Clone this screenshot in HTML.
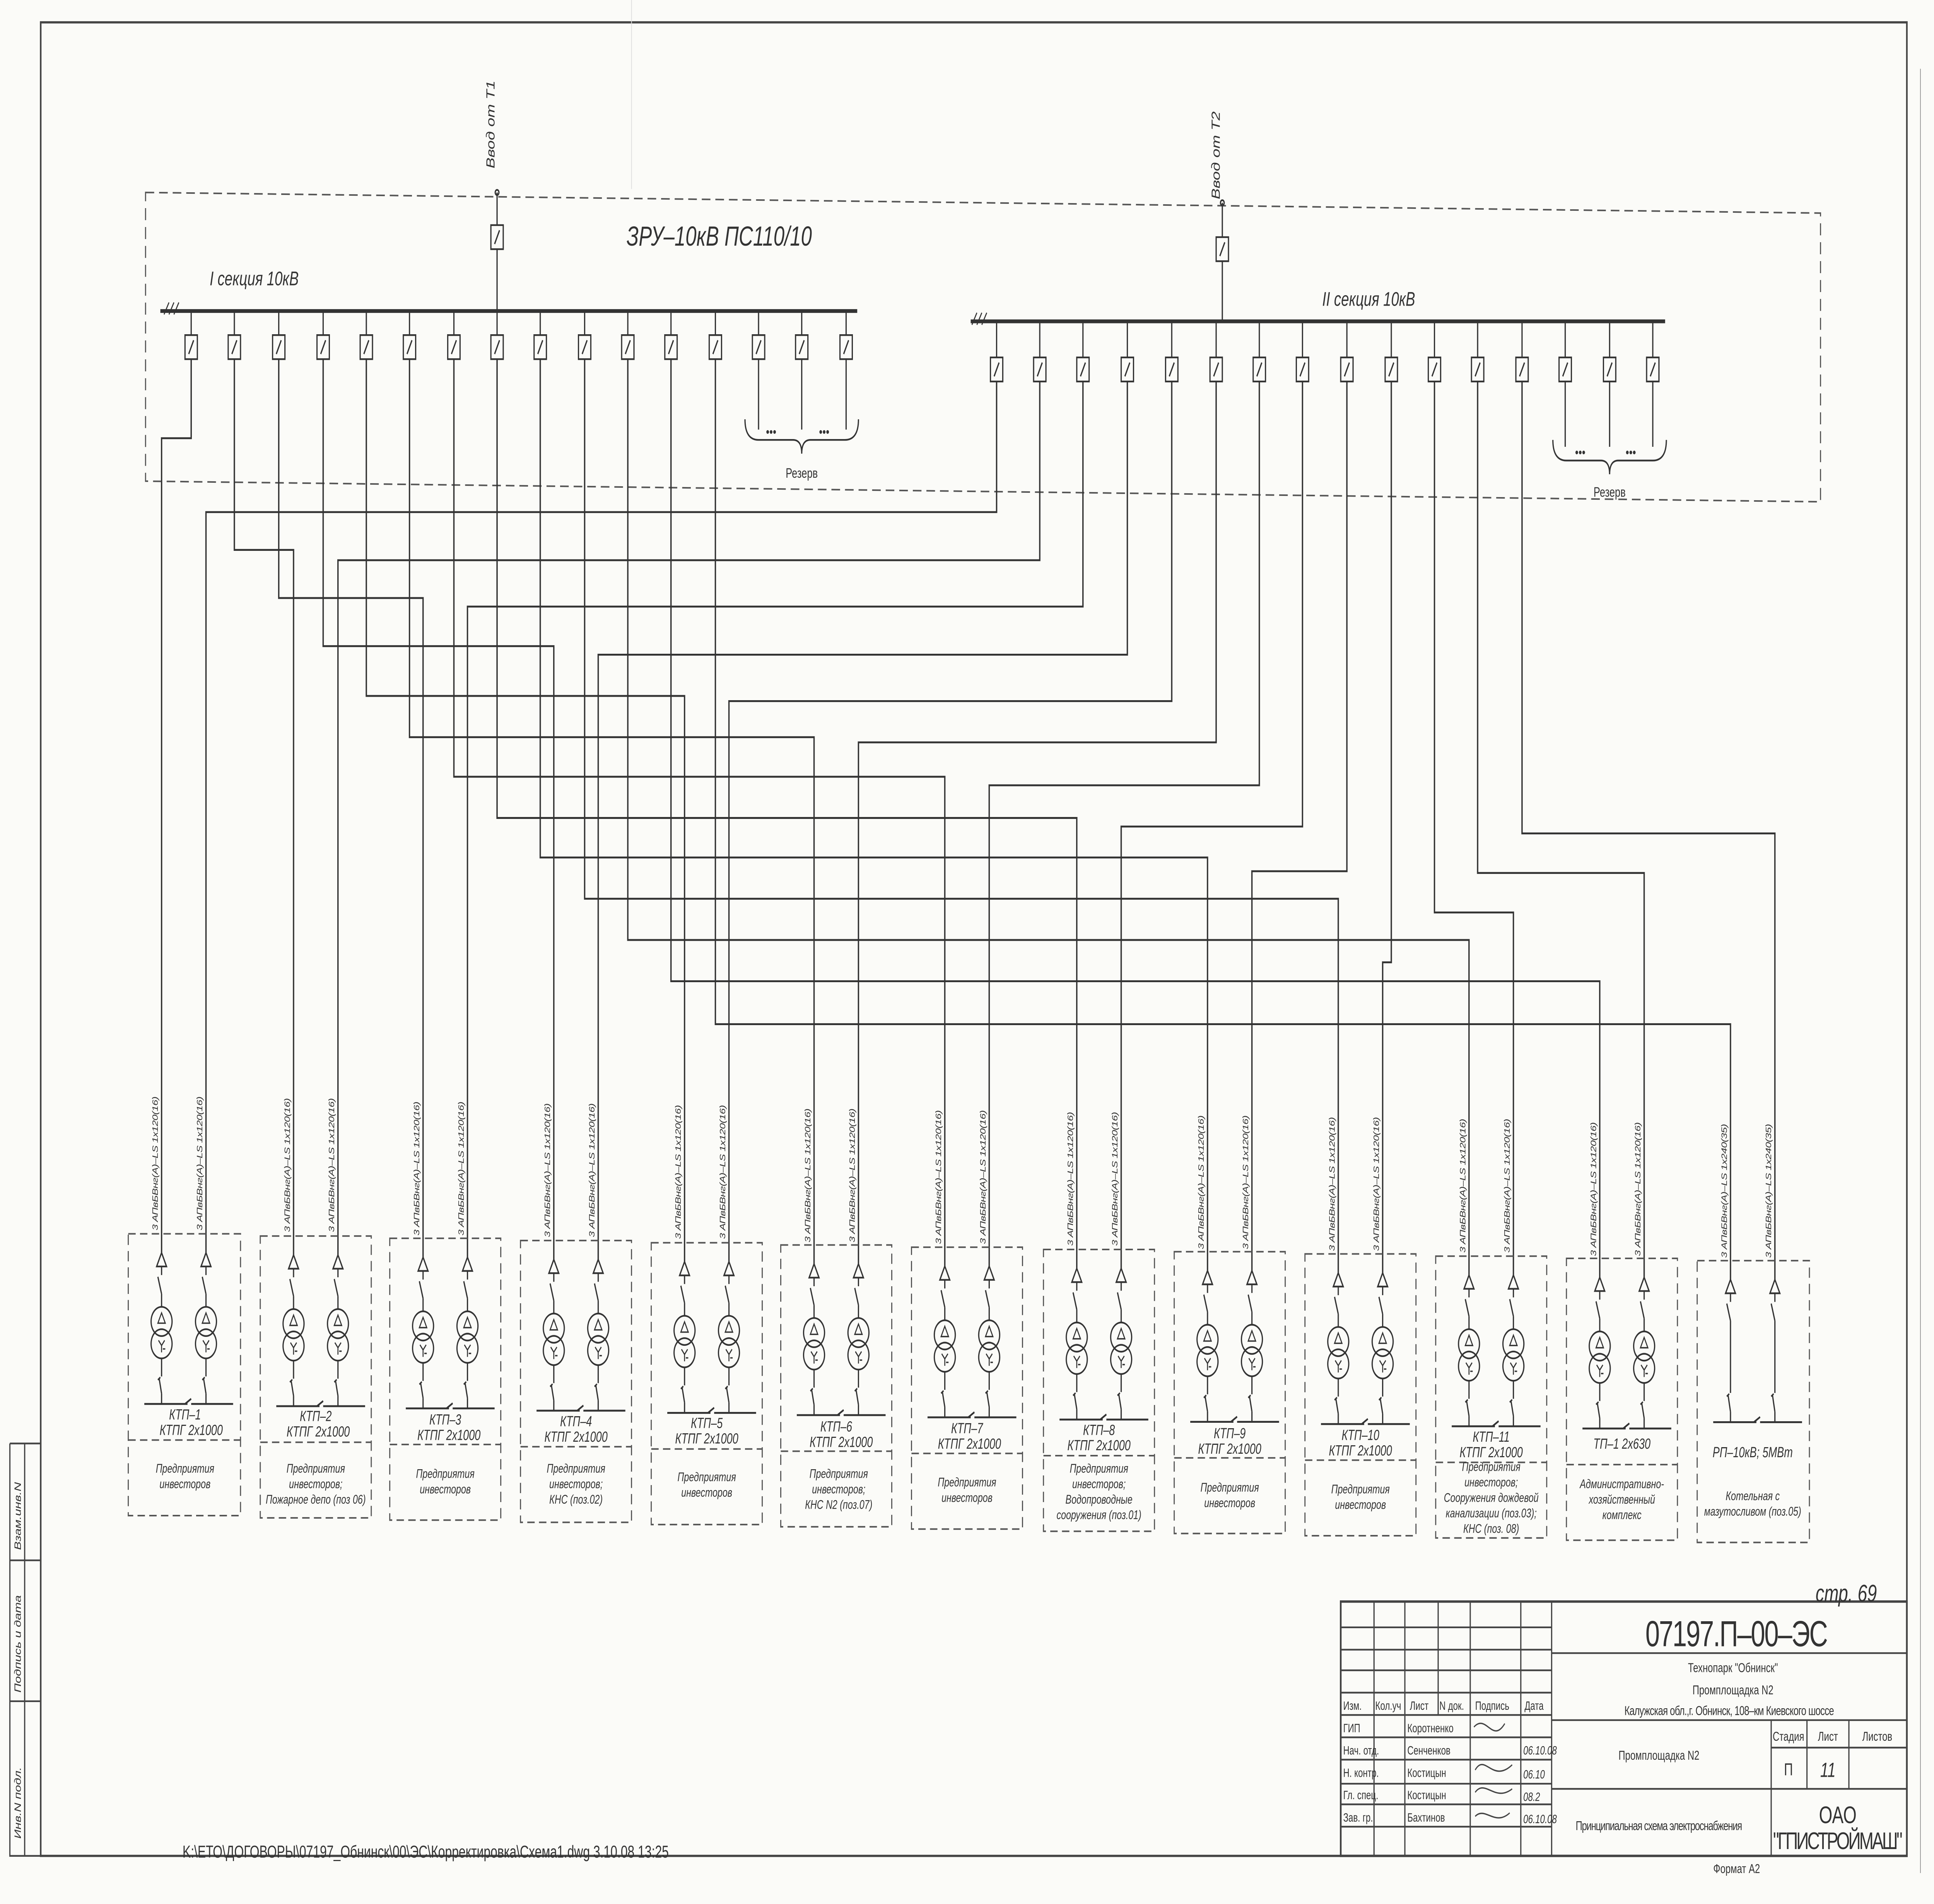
<!DOCTYPE html>
<html><head><meta charset="utf-8"><style>
html,body{margin:0;padding:0;background:#fbfbf8;width:100%;height:100%;overflow:hidden;}
svg{display:block;position:fixed;left:0;top:0;width:100vw;height:100vh;}
text{font-family:"Liberation Sans","DejaVu Sans",sans-serif;fill:#333;}
.i{font-style:italic;}
.c{font-size:6.3px;font-style:italic;}
.k{font-size:8.5px;font-style:italic;text-anchor:middle;}
.d{font-size:7.3px;font-style:italic;text-anchor:middle;}
.t{font-size:7.5px;}
</style></head><body>
<svg viewBox="0 0 1568 1108" preserveAspectRatio="none" xmlns="http://www.w3.org/2000/svg">
<defs>
<g id="col" stroke="#333" fill="none" stroke-width="1">
<path d="M0,729 L-4,737 L4,737 Z"/>
<path d="M0,737 V742 M-3,743 L0,753 M0,753 V760.5"/>
<circle cx="0" cy="769" r="8.5"/><circle cx="0" cy="782" r="8.5"/>
<path d="M0,764 L-3,770 L3,770 Z" stroke-width="0.8"/>
<path d="M-2.5,780 L0,783 L2.5,780 M0,783 V787 M1,785 h2" stroke-width="0.8"/>
<path d="M0,790.5 V801 M-2,802 L0,811 M-3,803 l2,-1.5 M0,811 V817"/>
</g>
<g id="col2" stroke="#333" fill="none" stroke-width="1">
<path d="M0,729 L-4,737 L4,737 Z"/>
<path d="M0,737 V742 M-3,743 L0,753 M0,753 V795 M-2,796 L0,806 M-3,797 l2,-1.5 M0,806 V812"/>
</g>
</defs>

<g stroke="#444" fill="none">
<rect x="33" y="13" width="1513" height="1067" stroke-width="1.3"/>
<line x1="1557" y1="40" x2="1557" y2="1090" stroke-width="0.6" stroke="#999"/>
<line x1="512" y1="0" x2="512" y2="110" stroke="#ddd" stroke-width="0.6"/>
<path d="M8,840 H33 M8,840 V1080 H33 M20,840 V1080 M8,908 H33 M8,990 H33" stroke-width="1"/>
</g>
<text class="i" font-size="7.5" transform="translate(17,902) rotate(-90)">Взам.инв.N</text>
<text class="i" font-size="7.5" transform="translate(17,985) rotate(-90)">Подпись и дата</text>
<text class="i" font-size="7.5" transform="translate(17,1070) rotate(-90)">Инв.N подл.</text>

<polygon points="118,112 1476,124 1476,292 118,280" fill="none" stroke="#555" stroke-width="0.9" stroke-dasharray="7,4"/>
<text class="i" x="508" y="143" font-size="16">ЗРУ–10кВ  ПС110/10</text>
<text class="i" x="170" y="166" font-size="11.5">I секция 10кВ</text>
<text class="i" x="1072" y="178" font-size="11.5">II секция 10кВ</text>

<g stroke="#333" fill="none" stroke-width="1">
<path d="M403,112 V131 M403,145 V181"/>
<rect x="398" y="131" width="10" height="14"/><path d="M401,142 L405,134"/>
<path d="M991,118 V138 M991,152 V187"/>
<rect x="986" y="138" width="10" height="14"/><path d="M989,149 L993,141"/>
<circle cx="403" cy="112" r="1.5"/><circle cx="991" cy="118" r="1.5"/>
</g>
<text class="i" font-size="9.5" transform="translate(401,98) rotate(-90)">Ввод от Т1</text>
<text class="i" font-size="9.5" transform="translate(989,116) rotate(-90)">Ввод от Т2</text>

<g stroke="#333" fill="none">
<path d="M130,181 H695" stroke-width="2.2"/>
<path d="M787,187 H1350" stroke-width="2.2"/>
<path d="M133,183 l4,-7 M137,183 l4,-7 M141,183 l4,-7 M788,189 l4,-7 M792,189 l4,-7 M796,189 l4,-7" stroke-width="0.8"/>
</g>

<g stroke="#333" fill="none" stroke-width="1">
<path d="M155,181V195 M190,181V195 M226,181V195 M262,181V195 M297,181V195 M332,181V195 M368,181V195 M403,181V195 M438,181V195 M474,181V195 M509,181V195 M544,181V195 M580,181V195 M615,181V195 M650,181V195 M686,181V195"/>
<g id="b1"><rect x="150" y="195" width="10" height="14"/><path d="M153,206 L157,198"/></g>
<use href="#b1" x="35"/><use href="#b1" x="71"/><use href="#b1" x="107"/><use href="#b1" x="142"/><use href="#b1" x="177"/><use href="#b1" x="213"/><use href="#b1" x="248"/><use href="#b1" x="283"/><use href="#b1" x="319"/><use href="#b1" x="354"/><use href="#b1" x="389"/><use href="#b1" x="425"/><use href="#b1" x="460"/><use href="#b1" x="495"/><use href="#b1" x="531"/>
<path d="M808,187V208 M843,187V208 M878,187V208 M914,187V208 M950,187V208 M986,187V208 M1021,187V208 M1056,187V208 M1092,187V208 M1128,187V208 M1163,187V208 M1198,187V208 M1234,187V208 M1269,187V208 M1305,187V208 M1340,187V208"/>
<g id="b2"><rect x="803" y="208" width="10" height="14"/><path d="M806,219 L810,211"/></g>
<use href="#b2" x="35"/><use href="#b2" x="70"/><use href="#b2" x="106"/><use href="#b2" x="142"/><use href="#b2" x="178"/><use href="#b2" x="213"/><use href="#b2" x="248"/><use href="#b2" x="284"/><use href="#b2" x="320"/><use href="#b2" x="355"/><use href="#b2" x="390"/><use href="#b2" x="426"/><use href="#b2" x="461"/><use href="#b2" x="497"/><use href="#b2" x="532"/>
<path d="M615,209V250 M650,209V250 M686,209V250"/>
<path d="M604,244 Q604,256 615,256 H643 Q650,256 650,264 Q650,256 657,256 H685 Q696,256 696,244"/>
<path d="M1269,222V260 M1305,222V260 M1340,222V260"/>
<path d="M1259,256 Q1259,268 1270,268 H1298 Q1305,268 1305,276 Q1305,268 1312,268 H1340 Q1351,268 1351,256"/>
</g>
<text x="621" y="254" font-size="8">•••</text><text x="664" y="254" font-size="8">•••</text>
<text x="1277" y="266" font-size="8">•••</text><text x="1318" y="266" font-size="8">•••</text>
<text x="650" y="278" font-size="8" text-anchor="middle">Резерв</text>
<text x="1305" y="289" font-size="8" text-anchor="middle">Резерв</text>

<g stroke="#333" fill="none" stroke-width="1.1">
<path d="M155,209V255H131V729"/>
<path d="M190,209V320H238V730.3"/>
<path d="M226,209V348H343V731.6"/>
<path d="M262,209V376H449V732.9"/>
<path d="M297,209V405H555V734.2"/>
<path d="M332,209V429H660V735.5"/>
<path d="M368,209V452H766V736.8"/>
<path d="M403,209V476H873V738.1"/>
<path d="M438,209V499H979V739.4"/>
<path d="M474,209V523H1085V740.7"/>
<path d="M509,209V547H1191V742"/>
<path d="M544,209V571H1297V743.3"/>
<path d="M580,209V596H1403V744.6"/>
<path d="M808,222V298H167V729"/>
<path d="M843,222V326H274V730.3"/>
<path d="M878,222V353H379V731.6"/>
<path d="M914,222V381H485V732.9"/>
<path d="M950,222V408H591V734.2"/>
<path d="M986,222V432H696V735.5"/>
<path d="M1021,222V457H802V736.8"/>
<path d="M1056,222V481H909V738.1"/>
<path d="M1092,222V507H1015V739.4"/>
<path d="M1128,222V560H1121V740.7"/>
<path d="M1163,222V531H1227V742"/>
<path d="M1198,222V508H1333V743.3"/>
<path d="M1234,222V485H1439V744.6"/>
</g>

<use href="#col" x="131" y="0"/><use href="#col" x="167" y="0"/>
<use href="#col" x="238" y="1.3"/><use href="#col" x="274" y="1.3"/>
<use href="#col" x="343" y="2.6"/><use href="#col" x="379" y="2.6"/>
<use href="#col" x="449" y="3.9"/><use href="#col" x="485" y="3.9"/>
<use href="#col" x="555" y="5.2"/><use href="#col" x="591" y="5.2"/>
<use href="#col" x="660" y="6.5"/><use href="#col" x="696" y="6.5"/>
<use href="#col" x="766" y="7.8"/><use href="#col" x="802" y="7.8"/>
<use href="#col" x="873" y="9.1"/><use href="#col" x="909" y="9.1"/>
<use href="#col" x="979" y="10.4"/><use href="#col" x="1015" y="10.4"/>
<use href="#col" x="1085" y="11.7"/><use href="#col" x="1121" y="11.7"/>
<use href="#col" x="1191" y="13"/><use href="#col" x="1227" y="13"/>
<use href="#col" x="1297" y="14.3"/><use href="#col" x="1333" y="14.3"/>
<use href="#col2" x="1403" y="15.6"/><use href="#col2" x="1439" y="15.6"/>

<text class="c" textLength="78" transform="translate(128,716) rotate(-90)">3 АПвБВнг(А)–LS 1х120(16)</text>
<text class="c" textLength="78" transform="translate(164,716) rotate(-90)">3 АПвБВнг(А)–LS 1х120(16)</text>
<text class="c" textLength="78" transform="translate(235,717) rotate(-90)">3 АПвБВнг(А)–LS 1х120(16)</text>
<text class="c" textLength="78" transform="translate(271,717) rotate(-90)">3 АПвБВнг(А)–LS 1х120(16)</text>
<text class="c" textLength="78" transform="translate(340,719) rotate(-90)">3 АПвБВнг(А)–LS 1х120(16)</text>
<text class="c" textLength="78" transform="translate(376,719) rotate(-90)">3 АПвБВнг(А)–LS 1х120(16)</text>
<text class="c" textLength="78" transform="translate(446,720) rotate(-90)">3 АПвБВнг(А)–LS 1х120(16)</text>
<text class="c" textLength="78" transform="translate(482,720) rotate(-90)">3 АПвБВнг(А)–LS 1х120(16)</text>
<text class="c" textLength="78" transform="translate(552,721) rotate(-90)">3 АПвБВнг(А)–LS 1х120(16)</text>
<text class="c" textLength="78" transform="translate(588,721) rotate(-90)">3 АПвБВнг(А)–LS 1х120(16)</text>
<text class="c" textLength="78" transform="translate(657,723) rotate(-90)">3 АПвБВнг(А)–LS 1х120(16)</text>
<text class="c" textLength="78" transform="translate(693,723) rotate(-90)">3 АПвБВнг(А)–LS 1х120(16)</text>
<text class="c" textLength="78" transform="translate(763,724) rotate(-90)">3 АПвБВнг(А)–LS 1х120(16)</text>
<text class="c" textLength="78" transform="translate(799,724) rotate(-90)">3 АПвБВнг(А)–LS 1х120(16)</text>
<text class="c" textLength="78" transform="translate(870,725) rotate(-90)">3 АПвБВнг(А)–LS 1х120(16)</text>
<text class="c" textLength="78" transform="translate(906,725) rotate(-90)">3 АПвБВнг(А)–LS 1х120(16)</text>
<text class="c" textLength="78" transform="translate(976,727) rotate(-90)">3 АПвБВнг(А)–LS 1х120(16)</text>
<text class="c" textLength="78" transform="translate(1012,727) rotate(-90)">3 АПвБВнг(А)–LS 1х120(16)</text>
<text class="c" textLength="78" transform="translate(1082,728) rotate(-90)">3 АПвБВнг(А)–LS 1х120(16)</text>
<text class="c" textLength="78" transform="translate(1118,728) rotate(-90)">3 АПвБВнг(А)–LS 1х120(16)</text>
<text class="c" textLength="78" transform="translate(1188,729) rotate(-90)">3 АПвБВнг(А)–LS 1х120(16)</text>
<text class="c" textLength="78" transform="translate(1224,729) rotate(-90)">3 АПвБВнг(А)–LS 1х120(16)</text>
<text class="c" textLength="78" transform="translate(1294,731) rotate(-90)">3 АПвБВнг(А)–LS 1х120(16)</text>
<text class="c" textLength="78" transform="translate(1330,731) rotate(-90)">3 АПвБВнг(А)–LS 1х120(16)</text>
<text class="c" textLength="78" transform="translate(1400,732) rotate(-90)">3 АПвБВнг(А)–LS 1х240(35)</text>
<text class="c" textLength="78" transform="translate(1436,732) rotate(-90)">3 АПвБВнг(А)–LS 1х240(35)</text>

<g fill="none" stroke="#555" stroke-width="0.9" stroke-dasharray="6,3.5">
<rect x="104" y="718" width="91" height="164"/><path d="M104,838H195"/>
<rect x="211" y="719.3" width="90" height="164"/><path d="M211,839.3H301"/>
<rect x="316" y="720.6" width="90" height="164"/><path d="M316,840.6H406"/>
<rect x="422" y="721.9" width="90" height="164"/><path d="M422,841.9H512"/>
<rect x="528" y="723.2" width="90" height="164"/><path d="M528,843.2H618"/>
<rect x="633" y="724.5" width="90" height="164"/><path d="M633,844.5H723"/>
<rect x="739" y="725.8" width="90" height="164"/><path d="M739,845.8H829"/>
<rect x="846" y="727.1" width="90" height="164"/><path d="M846,847.1H936"/>
<rect x="952" y="728.4" width="90" height="164"/><path d="M952,848.4H1042"/>
<rect x="1058" y="729.7" width="90" height="164"/><path d="M1058,849.7H1148"/>
<rect x="1164" y="731" width="90" height="164"/><path d="M1164,851H1254"/>
<rect x="1270" y="732.3" width="90" height="164"/><path d="M1270,852.3H1360"/>
<rect x="1376" y="733.6" width="91" height="164"/>
</g>
<g stroke="#333" fill="none" stroke-width="1.1">
<path d="M117,817H152 M150,817 l5,-3 M155,817H189"/>
<path d="M224,818.3H259 M257,818.3 l5,-3 M262,818.3H296"/>
<path d="M329,819.6H364 M362,819.6 l5,-3 M367,819.6H401"/>
<path d="M435,820.9H470 M468,820.9 l5,-3 M473,820.9H507"/>
<path d="M541,822.2H576 M574,822.2 l5,-3 M579,822.2H613"/>
<path d="M646,823.5H681 M679,823.5 l5,-3 M684,823.5H718"/>
<path d="M752,824.8H787 M785,824.8 l5,-3 M790,824.8H824"/>
<path d="M859,826.1H894 M892,826.1 l5,-3 M897,826.1H931"/>
<path d="M965,827.4H1000 M998,827.4 l5,-3 M1003,827.4H1037"/>
<path d="M1071,828.7H1106 M1104,828.7 l5,-3 M1109,828.7H1143"/>
<path d="M1177,830H1212 M1210,830 l5,-3 M1215,830H1249"/>
<path d="M1283,831.3H1318 M1316,831.3 l5,-3 M1321,831.3H1355"/>
<path d="M1389,827.6H1424 M1422,827.6 l5,-3 M1427,827.6H1461"/>
</g>

<text class="k" x="150" y="826">КТП–1</text><text class="k" x="155" y="835">КТПГ 2х1000</text>
<text class="d" x="150" y="857">Предприятия</text><text class="d" x="150" y="866">инвесторов</text>
<text class="k" x="256" y="827">КТП–2</text><text class="k" x="258" y="836">КТПГ 2х1000</text>
<text class="d" x="256" y="857">Предприятия</text><text class="d" x="256" y="866">инвесторов;</text><text class="d" x="256" y="875">Пожарное депо (поз 06)</text>
<text class="k" x="361" y="829">КТП–3</text><text class="k" x="364" y="838">КТПГ 2х1000</text>
<text class="d" x="361" y="860">Предприятия</text><text class="d" x="361" y="869">инвесторов</text>
<text class="k" x="467" y="830">КТП–4</text><text class="k" x="467" y="839">КТПГ 2х1000</text>
<text class="d" x="467" y="857">Предприятия</text><text class="d" x="467" y="866">инвесторов;</text><text class="d" x="467" y="875">КНС (поз.02)</text>
<text class="k" x="573" y="831">КТП–5</text><text class="k" x="573" y="840">КТПГ 2х1000</text>
<text class="d" x="573" y="862">Предприятия</text><text class="d" x="573" y="871">инвесторов</text>
<text class="k" x="678" y="833">КТП–6</text><text class="k" x="682" y="842">КТПГ 2х1000</text>
<text class="d" x="680" y="860">Предприятия</text><text class="d" x="680" y="869">инвесторов;</text><text class="d" x="680" y="878">КНС N2 (поз.07)</text>
<text class="k" x="784" y="834">КТП–7</text><text class="k" x="786" y="843">КТПГ 2х1000</text>
<text class="d" x="784" y="865">Предприятия</text><text class="d" x="784" y="874">инвесторов</text>
<text class="k" x="891" y="835">КТП–8</text><text class="k" x="891" y="844">КТПГ 2х1000</text>
<text class="d" x="891" y="857">Предприятия</text><text class="d" x="891" y="866">инвесторов;</text><text class="d" x="891" y="875">Водопроводные</text><text class="d" x="891" y="884">сооружения (поз.01)</text>
<text class="k" x="997" y="837">КТП–9</text><text class="k" x="997" y="846">КТПГ 2х1000</text>
<text class="d" x="997" y="868">Предприятия</text><text class="d" x="997" y="877">инвесторов</text>
<text class="k" x="1103" y="838">КТП–10</text><text class="k" x="1103" y="847">КТПГ 2х1000</text>
<text class="d" x="1103" y="869">Предприятия</text><text class="d" x="1103" y="878">инвесторов</text>
<text class="k" x="1209" y="839">КТП–11</text><text class="k" x="1209" y="848">КТПГ 2х1000</text>
<text class="d" x="1209" y="856">Предприятия</text><text class="d" x="1209" y="865">инвесторов;</text><text class="d" x="1209" y="874">Сооружения дождевой</text><text class="d" x="1209" y="883">канализации (поз.03);</text><text class="d" x="1209" y="892">КНС (поз. 08)</text>
<text class="k" x="1315" y="843">ТП–1  2х630</text>
<text class="d" x="1315" y="866">Административно-</text><text class="d" x="1315" y="875">хозяйственный</text><text class="d" x="1315" y="884">комплекс</text>
<text class="k" x="1421" y="848">РП–10кВ;  5МВт</text>
<text class="d" x="1421" y="873">Котельная с</text><text class="d" x="1421" y="882">мазутосливом (поз.05)</text>

<g stroke="#444" fill="none" stroke-width="1">
<rect x="1087" y="932" width="459" height="148" stroke-width="1.4"/>
<path d="M1087,947H1258 M1087,960H1258 M1087,972H1258 M1087,985H1258 M1087,998H1258 M1087,1011H1258 M1087,1024H1258 M1087,1038H1258 M1087,1050H1258 M1087,1063H1258"/>
<path d="M1114,932V1080 M1139,932V1080 M1166,932V998 M1192,932V1080 M1233,932V1080 M1258,932V1080"/>
<path d="M1258,962H1546 M1258,1001H1546 M1436,1001V1080 M1258,1041H1546 M1465,1001V1041 M1499,1001V1041 M1436,1017H1546"/>
</g>
<text x="1408" y="958" font-size="21" text-anchor="middle" textLength="148">07197.П–00–ЭС</text>
<text class="t" x="1405" y="973" text-anchor="middle">Технопарк "Обнинск"</text>
<text class="t" x="1405" y="986" text-anchor="middle">Промплощадка N2</text>
<text class="t" x="1402" y="998" text-anchor="middle" textLength="170">Калужская обл.,г. Обнинск, 108–км Киевского шоссе</text>
<text class="t" x="1345" y="1024" text-anchor="middle">Промплощадка N2</text>
<text class="t" x="1345" y="1065" text-anchor="middle" textLength="135">Принципиальная схема электроснабжения</text>
<text class="t" x="1450" y="1013" text-anchor="middle">Стадия</text>
<text class="t" x="1482" y="1013" text-anchor="middle">Лист</text>
<text class="t" x="1522" y="1013" text-anchor="middle">Листов</text>
<text x="1450" y="1033" font-size="10" text-anchor="middle">П</text>
<text x="1482" y="1034" font-size="12" text-anchor="middle" class="i">11</text>
<text x="1490" y="1061" font-size="14" text-anchor="middle">ОАО</text>
<text x="1490" y="1076" font-size="14" text-anchor="middle" textLength="105">"ГПИСТРОЙМАШ"</text>
<text class="t" x="1408" y="1090" text-anchor="middle">Формат  А2</text>
<text class="i" x="1472" y="932" font-size="14">стр. 69</text>
<g font-size="7">
<text x="1089" y="995">Изм.</text><text x="1115" y="995">Кол.уч</text><text x="1143" y="995">Лист</text><text x="1167" y="995">N док.</text><text x="1196" y="995">Подпись</text><text x="1236" y="995">Дата</text>
<text x="1089" y="1008">ГИП</text><text x="1141" y="1008">Коротненко</text>
<text x="1089" y="1021">Нач. отд.</text><text x="1141" y="1021">Сенченков</text>
<text x="1089" y="1034">Н. контр.</text><text x="1141" y="1034">Костицын</text>
<text x="1089" y="1047">Гл. спец.</text><text x="1141" y="1047">Костицын</text>
<text x="1089" y="1060">Зав. гр.</text><text x="1141" y="1060">Бахтинов</text>
<text class="i" x="1235" y="1021">06.10.08</text><text class="i" x="1235" y="1035">06.10</text><text class="i" x="1235" y="1048">08.2</text><text class="i" x="1235" y="1061">06.10.08</text>
</g>
<path d="M1195,1005 c10,-8 15,10 25,-2 M1196,1030 c8,-10 14,8 30,-3 M1196,1043 c8,-8 16,6 30,-2 M1196,1057 c8,-6 16,6 28,-2" stroke="#444" fill="none" stroke-width="0.8"/>

<text x="148" y="1081" font-size="10">K:\ЕТО\ДОГОВОРЫ\07197_Обнинск\00\ЭС\Корректировка\Схема1.dwg    3.10.08  13:25</text>
</svg>
</body></html>
